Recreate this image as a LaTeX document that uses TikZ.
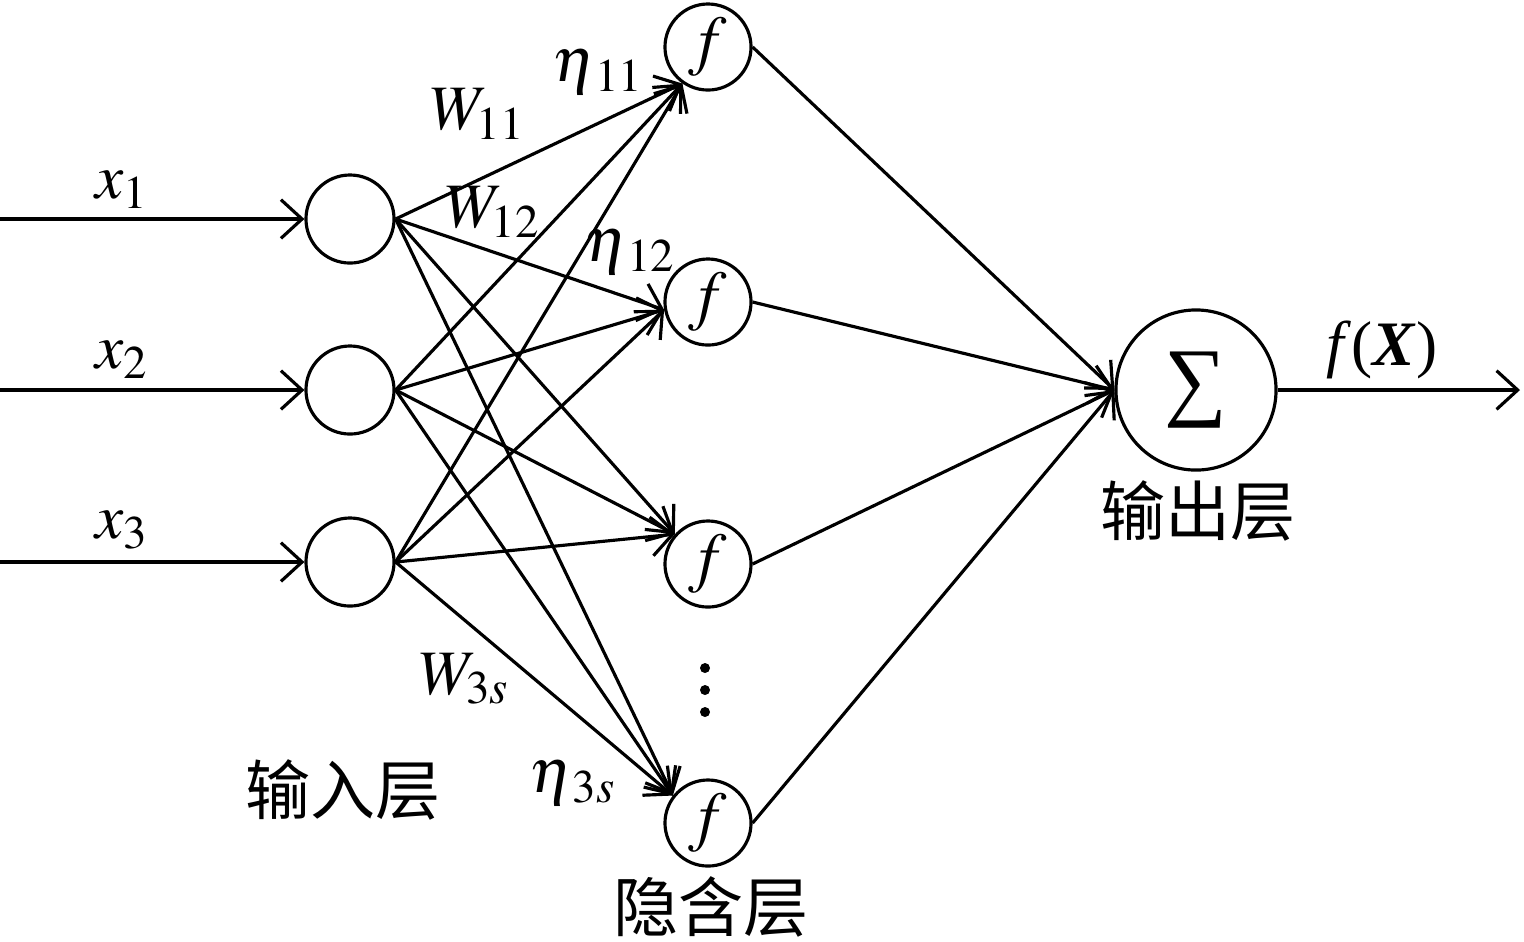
\documentclass[tikz,border=0pt]{standalone}
\usepackage{mathptmx}
\usepackage[no-math]{fontspec}
\setmainfont{Liberation Serif}
\newfontfamily\cjk{Noto Sans CJK SC}
\usetikzlibrary{arrows.meta}
\begin{document}
\begin{tikzpicture}[x=0.01cm, y=-0.01cm, line width=0.9pt,
		>={Straight Barb[length=6pt, width=11pt]},
		innode/.style={draw, circle, minimum size=0.88cm, inner sep=0pt},
		hidnode/.style={draw, circle, minimum size=0.86cm, inner sep=0pt, font=\fontsize{19}{20}\selectfont},
		lbl/.style={font=\fontsize{18}{20}\selectfont, inner sep=0pt},
		cnlbl/.style={font=\cjk\fontsize{18.5}{20}\selectfont, inner sep=0pt}]
		\useasboundingbox (0,0) rectangle (1524,941);
		\draw (350,219) node[innode] (I1) {};
		\draw (350,390) node[innode] (I2) {};
		\draw (350,562) node[innode] (I3) {};
		\draw (708,47) node[hidnode] (H1) {$f$};
		\draw (708,302) node[hidnode] (H2) {$f$};
		\draw (708,564) node[hidnode] (H3) {$f$};
		\draw (708,823) node[hidnode] (H4) {$f$};
		\draw (1196,390) node[draw, circle, minimum size=1.6cm, inner sep=0pt, font=\fontsize{25}{28}\selectfont] (O) {∑};
		\coordinate (X1) at (0,219);
		\coordinate (X2) at (0,390);
		\coordinate (X3) at (0,562);
		\coordinate (Y) at (1520,390);
		% inputs
		\draw[->] (X1) -- (I1);
		\draw[->] (X2) -- (I2);
		\draw[->] (X3) -- (I3);
		% input -> hidden
		\draw[->] (I1.east) -- (H1.235);
		\draw[->] (I1.east) -- (H2.190);
		\draw[->] (I1.east) -- (H3.138);
		\draw[->] (I1.east) -- (H4.142);
		\draw[->] (I2.east) -- (H1.235);
		\draw[->] (I2.east) -- (H2.190);
		\draw[->] (I2.east) -- (H3.138);
		\draw[->] (I2.east) -- (H4.142);
		\draw[->] (I3.east) -- (H1.235);
		\draw[->] (I3.east) -- (H2.190);
		\draw[->] (I3.east) -- (H3.138);
		\draw[->] (I3.east) -- (H4.142);
		% hidden -> output
		\draw[->] (H1.east) -- (O.west);
		\draw[->] (H2.east) -- (O.west);
		\draw[->] (H3.east) -- (O.west);
		\draw[->] (H4.east) -- (O.west);
		\draw[->] (O) -- (Y);
		% dots
		\fill (705,668) circle (5) (705,690) circle (5) (705,712) circle (5);
		% labels
		\draw (122,190) node[lbl] (LX1) {$x_1$};
		\draw (122,360) node[lbl] (LX2) {$x_2$};
		\draw (122,530) node[lbl] (LX3) {$x_3$};
		\draw (478,114) node[lbl] (LW11) {$W_{11}$};
		\draw (493,212) node[lbl] (LW12) {$W_{12}$};
		\draw (598,72) node[lbl] (LE11) {$\eta_{\,11}$};
		\draw (630,252) node[lbl] (LE12) {$\eta_{\,12}$};
		\draw (465,679) node[lbl] (LW3s) {$W_{3s}$};
		\draw (573,783) node[lbl] (LE3s) {$\eta_{\,3s}$};
		\draw (1382,350) node[lbl] (LF) {\textit{f}(\textbf{\textit{X}})};
		\draw (343,790) node[cnlbl] (LIn) {输入层};
		\draw (711,907) node[cnlbl] (LHid) {隐含层};
		\draw (1198,511) node[cnlbl] (LOut) {输出层};
	\end{tikzpicture}
\end{document}
